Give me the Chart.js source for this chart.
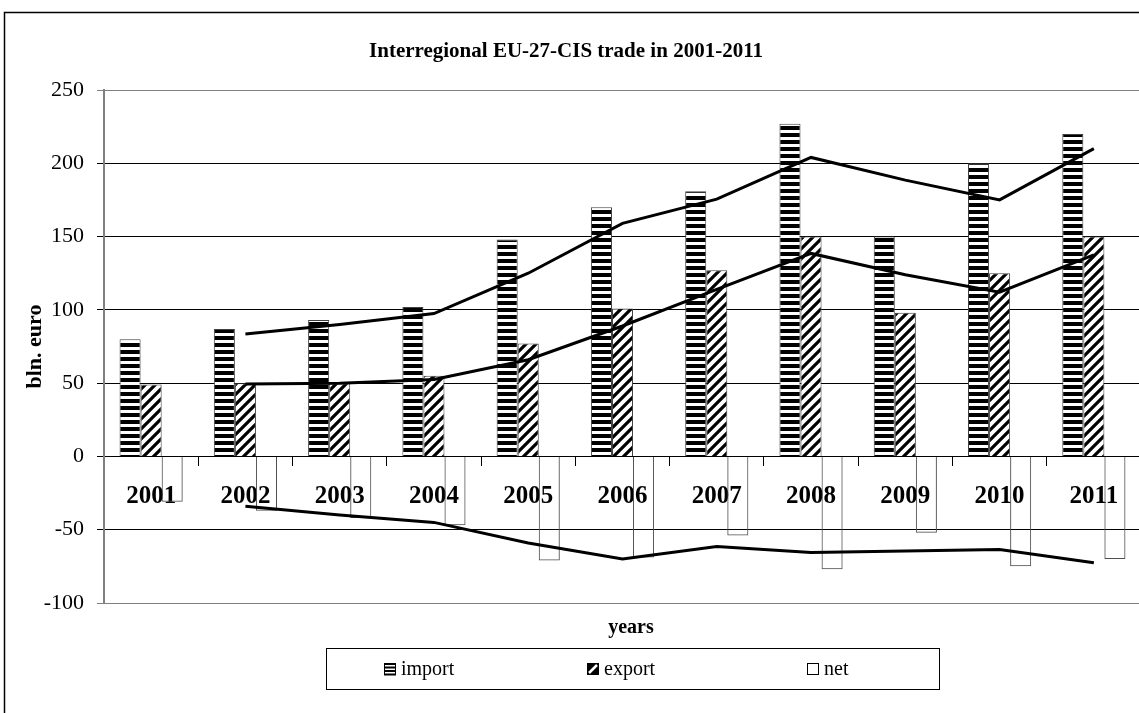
<!DOCTYPE html>
<html><head><meta charset="utf-8">
<script src="https://cdn.jsdelivr.net/npm/chart.js@4.4.1/dist/chart.umd.min.js"></script>
<style>html,body{margin:0;padding:0;background:#fff;overflow:hidden}#wrap{width:1145px;height:713px}</style>
</head><body><div id="wrap"><canvas id="c" width="1145" height="713"></canvas></div>
<script>
const years = ['2001','2002','2003','2004','2005','2006','2007','2008','2009','2010','2011'];
const importVals = [80, 87, 93, 102, 148, 170, 181, 227, 150, 200, 220];
const exportVals = [49, 50, 50, 55, 77, 101, 127, 150, 98, 125, 150];
const netVals = [-31, -37, -42, -47, -71, -69, -54, -77, -52, -75, -70];
const importTrend = [null, 83.5, 90, 97.5, 125, 159, 175.5, 204, 188.5, 175, 210];
const exportTrend = [null, 49.5, 50, 52.5, 66, 89, 114, 138.5, 124, 112, 137.5];
const netTrend = [null, -34, -40, -45, -59, -70, -61.5, -65.5, -64.5, -63.5, -72.5];
const yTicks = [-100, -50, 0, 50, 100, 150, 200, 250];
const titleText = 'Interregional EU-27-CIS trade in 2001-2011';
const yTitle = 'bln. euro';
const xTitle = 'years';
const legendLabels = ['import', 'export', 'net'];

const SERIF = '"Liberation Serif", "Times New Roman", serif';
const canvas = document.getElementById('c');
const ctx = canvas.getContext('2d');

function hPattern() {
  const c = document.createElement('canvas'); c.width = 8; c.height = 7;
  const x = c.getContext('2d');
  x.fillStyle = '#fff'; x.fillRect(0, 0, 8, 7);
  x.fillStyle = '#000'; x.fillRect(0, 0, 8, 4);
  return ctx.createPattern(c, 'repeat');
}
function dPattern() {
  const s = 10;
  const c = document.createElement('canvas'); c.width = s; c.height = s;
  const x = c.getContext('2d');
  x.fillStyle = '#fff'; x.fillRect(0, 0, s, s);
  x.strokeStyle = '#000'; x.lineWidth = 3.2; x.lineCap = 'square';
  x.beginPath();
  x.moveTo(0, s); x.lineTo(s, 0);
  x.moveTo(-s / 2, s / 2); x.lineTo(s / 2, -s / 2);
  x.moveTo(s / 2, s * 1.5); x.lineTo(s * 1.5, s / 2);
  x.stroke();
  return ctx.createPattern(c, 'repeat');
}

const frame = {
  id: 'frame',
  beforeDraw(chart) {
    const c = chart.ctx;
    c.save();
    c.fillStyle = '#fff'; c.fillRect(0, 0, chart.width, chart.height);
    c.strokeStyle = '#000'; c.lineWidth = 1.5;
    c.strokeRect(4.5, 12.5, 1300, 900);
    c.restore();
  },
  afterDraw(chart) {
    const c = chart.ctx;
    c.save();
    c.fillStyle = '#000';
    c.textAlign = 'center'; c.textBaseline = 'middle';
    c.font = 'bold 21px ' + SERIF;
    c.fillText(titleText, 566, 52);
    c.font = 'bold 20px ' + SERIF;
    c.fillText(xTitle, 631, 628);
    c.strokeStyle = '#000'; c.lineWidth = 1;
    c.strokeRect(326.5, 648.5, 613, 41);
    const cy = 669;
    const icons = [384, 587, 807];
    c.font = '20px ' + SERIF; c.textAlign = 'left';
    legendLabels.forEach((t, i) => {
      const x0 = icons[i], y0 = cy - 6, s = 12;
      c.fillStyle = '#fff'; c.fillRect(x0, y0, s, s);
      c.strokeStyle = '#000'; c.lineWidth = 1;
      if (i === 0) {
        c.fillStyle = '#000';
        for (let k = 0; k < 4; k++) c.fillRect(x0, y0 + k * 3.5, s, 2);
        c.strokeRect(x0 + 0.5, y0 + 0.5, s - 1, s - 1);
      } else if (i === 1) {
        c.fillStyle = '#000'; c.fillRect(x0, y0, s, s);
        c.strokeStyle = '#fff'; c.lineWidth = 2.5;
        c.beginPath(); c.moveTo(x0 + 2, y0 + s - 2); c.lineTo(x0 + s - 2, y0 + 2); c.stroke();
      } else {
        c.strokeRect(x0 + 0.5, y0 + 0.5, s - 1, s - 1);
      }
      c.fillStyle = '#000';
      c.fillText(t, x0 + s + 5, cy + 1);
    });
    c.restore();
  }
};

const gridColor = (g) => (g.tick && (g.tick.value === 250 || g.tick.value === -100)) ? '#808080' : '#000';

new Chart(ctx, {
  data: {
    labels: years,
    datasets: [
      { type: 'line', label: 'import trend', data: importTrend, borderColor: '#000', borderWidth: 3, pointRadius: 0, tension: 0, order: 0 },
      { type: 'line', label: 'export trend', data: exportTrend, borderColor: '#000', borderWidth: 3, pointRadius: 0, tension: 0, order: 0 },
      { type: 'line', label: 'net trend', data: netTrend, borderColor: '#000', borderWidth: 3, pointRadius: 0, tension: 0, order: 0 },
      { type: 'bar', label: legendLabels[0], data: importVals, backgroundColor: hPattern(), borderColor: '#404040', borderWidth: 1, order: 1, categoryPercentage: 0.67, barPercentage: 1 },
      { type: 'bar', label: legendLabels[1], data: exportVals, backgroundColor: dPattern(), borderColor: '#404040', borderWidth: 1, order: 1, categoryPercentage: 0.67, barPercentage: 1 },
      { type: 'bar', label: legendLabels[2], data: netVals, backgroundColor: 'rgba(255,255,255,0)', borderColor: '#505050', borderWidth: 1, order: 1, categoryPercentage: 0.67, barPercentage: 1 }
    ]
  },
  options: {
    responsive: false, animation: false, devicePixelRatio: 1,
    layout: { padding: { left: 8, right: 4, top: 90, bottom: 110 } },
    plugins: {
      legend: { display: false },
      tooltip: { enabled: false },
      title: { display: false }
    },
    scales: {
      x: {
        type: 'category', position: { y: 0 }, offset: true,
        grid: { drawOnChartArea: false, drawTicks: true, tickLength: 9, color: '#000', offset: true },
        border: { display: true, color: '#000', width: 1 },
        ticks: { color: '#000', font: { family: SERIF, size: 25, weight: 'bold' }, padding: 16, maxRotation: 0, autoSkip: false }
      },
      y: {
        min: -100, max: 250,
        afterBuildTicks: (s) => { s.ticks = yTicks.map(v => ({ value: v })); },
        afterFit: (s) => { s.width = 96; },
        grid: { color: gridColor, lineWidth: 1, tickLength: 7, drawTicks: true },
        border: { display: true, color: '#808080', width: 2 },
        ticks: { color: '#000', font: { family: SERIF, size: 22 }, padding: 13 },
        title: { display: true, text: yTitle, color: '#000', font: { family: SERIF, size: 22, weight: 'bold' }, padding: { top: 14, bottom: 0 } }
      }
    }
  },
  plugins: [frame]
});
</script></body></html>
